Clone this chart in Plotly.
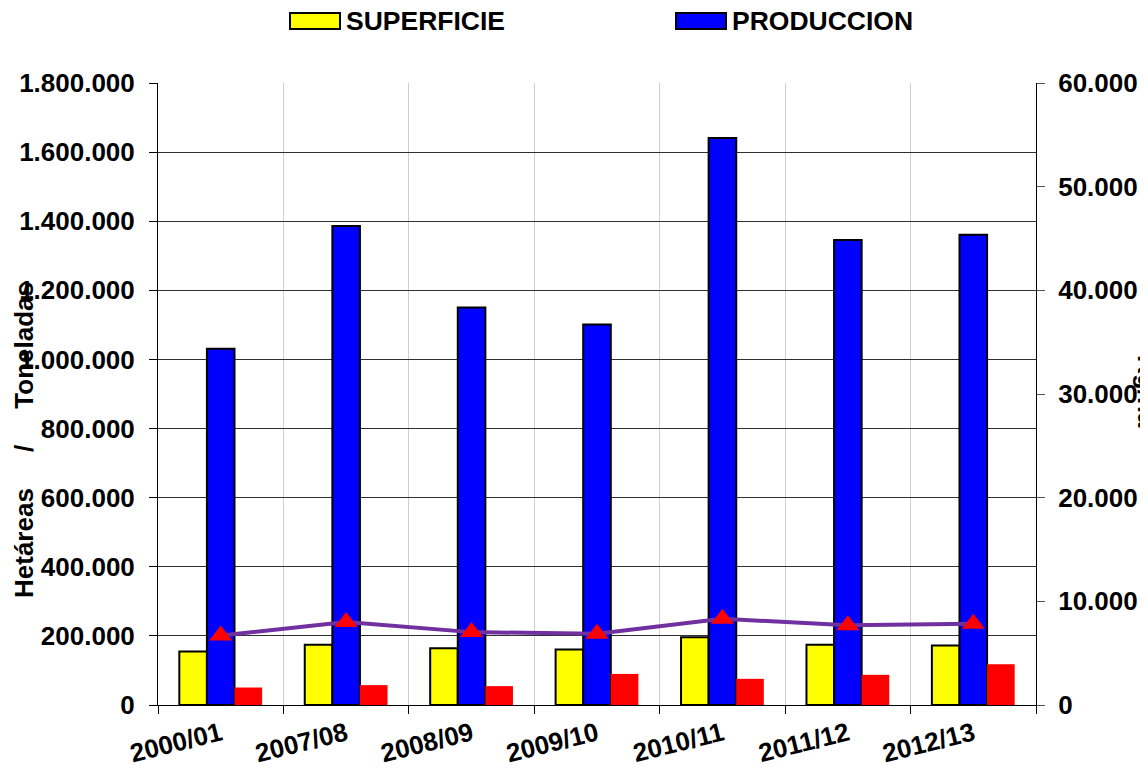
import plotly.graph_objects as go

campanas = ["2000/01", "2007/08", "2008/09", "2009/10", "2010/11", "2011/12", "2012/13"]
superficie = [154700, 174000, 164500, 160500, 196000, 174000, 172000]
produccion = [1031000, 1386000, 1150000, 1101000, 1641000, 1346000, 1361000]
tercera_serie = [50600, 57500, 54600, 90000, 75700, 87300, 118000]
rendimiento = [6700, 8000, 7030, 6870, 8310, 7700, 7830]

left_ticks = list(range(0, 1800001, 200000))
right_ticks = list(range(0, 60001, 10000))

FONT = "Liberation Sans, Arial, sans-serif"

fig = go.Figure()
fig.add_trace(go.Bar(x=campanas, y=superficie, name="SUPERFICIE",
                     marker=dict(color="#FFFF00", line=dict(color="black", width=2)),
                     showlegend=False))
fig.add_trace(go.Bar(x=campanas, y=produccion, name="PRODUCCION",
                     marker=dict(color="#0000FF", line=dict(color="black", width=2)),
                     showlegend=False))
fig.add_trace(go.Bar(x=campanas, y=tercera_serie, name="serie3",
                     marker=dict(color="#FF0000", line=dict(width=0)),
                     showlegend=False))
fig.add_trace(go.Scatter(x=campanas, y=rendimiento, name="Kg/ha", yaxis="y2",
                         mode="lines+markers",
                         line=dict(color="#7030A0", width=4),
                         marker=dict(symbol="triangle-up", size=20, color="#FF0000"),
                         showlegend=False))

# page body has an 8px offset; screen coords below are from the reference
OFF = 8
W, H = 1148 - OFF, 783 - OFF
L, R, T, B = 158 - OFF, 112, 83 - OFF, 78
pw, ph = W - L - R, H - T - B

def px_x(p):
    return (p - OFF - L) / pw

def px_y(p):
    return (H - B - (p - OFF)) / ph

bold = dict(family=FONT, color="black", weight="bold")

shapes = [
    dict(type="rect", xref="paper", yref="paper", x0=px_x(290), x1=px_x(340),
         y0=px_y(29), y1=px_y(13), fillcolor="#FFFF00", line=dict(color="black", width=2)),
    dict(type="rect", xref="paper", yref="paper", x0=px_x(676), x1=px_x(726),
         y0=px_y(29), y1=px_y(13), fillcolor="#0000FF", line=dict(color="black", width=2)),
]
annotations = [
    dict(text="SUPERFICIE", xref="paper", yref="paper", x=px_x(344), y=px_y(21),
         xanchor="left", yanchor="middle", showarrow=False, font=dict(size=26.5, **bold)),
    dict(text="PRODUCCION", xref="paper", yref="paper", x=px_x(730), y=px_y(21),
         xanchor="left", yanchor="middle", showarrow=False, font=dict(size=26.5, **bold)),
    dict(text="Hetáreas\u00a0\u00a0\u00a0\u00a0\u00a0/\u00a0\u00a0\u00a0\u00a0\u00a0Toneladas",
         xref="paper", yref="paper", x=px_x(24), y=px_y(440), textangle=-90,
         xanchor="center", yanchor="middle", showarrow=False,
         font=dict(size=26, **bold)),
    dict(text="Kg/ha", xref="paper", yref="paper", x=px_x(1147), y=px_y(391), textangle=90,
         xanchor="center", yanchor="middle", showarrow=False,
         font=dict(size=26, **bold)),
]

fig.update_layout(
    width=W, height=H,
    margin=dict(l=L, r=R, t=T, b=B, pad=0, autoexpand=False),
    paper_bgcolor="white", plot_bgcolor="white",
    separators=",.",
    barmode="group", bargap=0.34, bargroupgap=0,
    font=dict(family=FONT, color="black"),
    shapes=shapes, annotations=annotations,
    xaxis=dict(
        type="category", tickson="boundaries", ticks="outside", ticklen=8,
        tickcolor="black", showline=True, linecolor="black", linewidth=1,
        showgrid=True, gridcolor="#D0D0D0", gridwidth=1,
        tickangle=-14, tickfont=dict(size=26, **bold), automargin=False,
        ticklabelstandoff=3,
    ),
    yaxis=dict(
        range=[0, 1800000], tickvals=left_ticks, tickformat=",d",
        ticks="outside", ticklen=8, tickcolor="black",
        showline=True, linecolor="black", linewidth=1,
        showgrid=True, gridcolor="#303030", gridwidth=1, zeroline=False,
        tickfont=dict(size=26, **bold), automargin=False,
        ticklabelstandoff=9,
    ),
    yaxis2=dict(
        range=[0, 60000], tickvals=right_ticks, tickformat=",d",
        overlaying="y", side="right",
        ticks="outside", ticklen=8, tickcolor="#555555",
        showline=True, linecolor="black", linewidth=1,
        showgrid=False, zeroline=False,
        tickfont=dict(size=26, **bold), automargin=False,
        ticklabelstandoff=8,
    ),
)

fig.write_html("out.html")
